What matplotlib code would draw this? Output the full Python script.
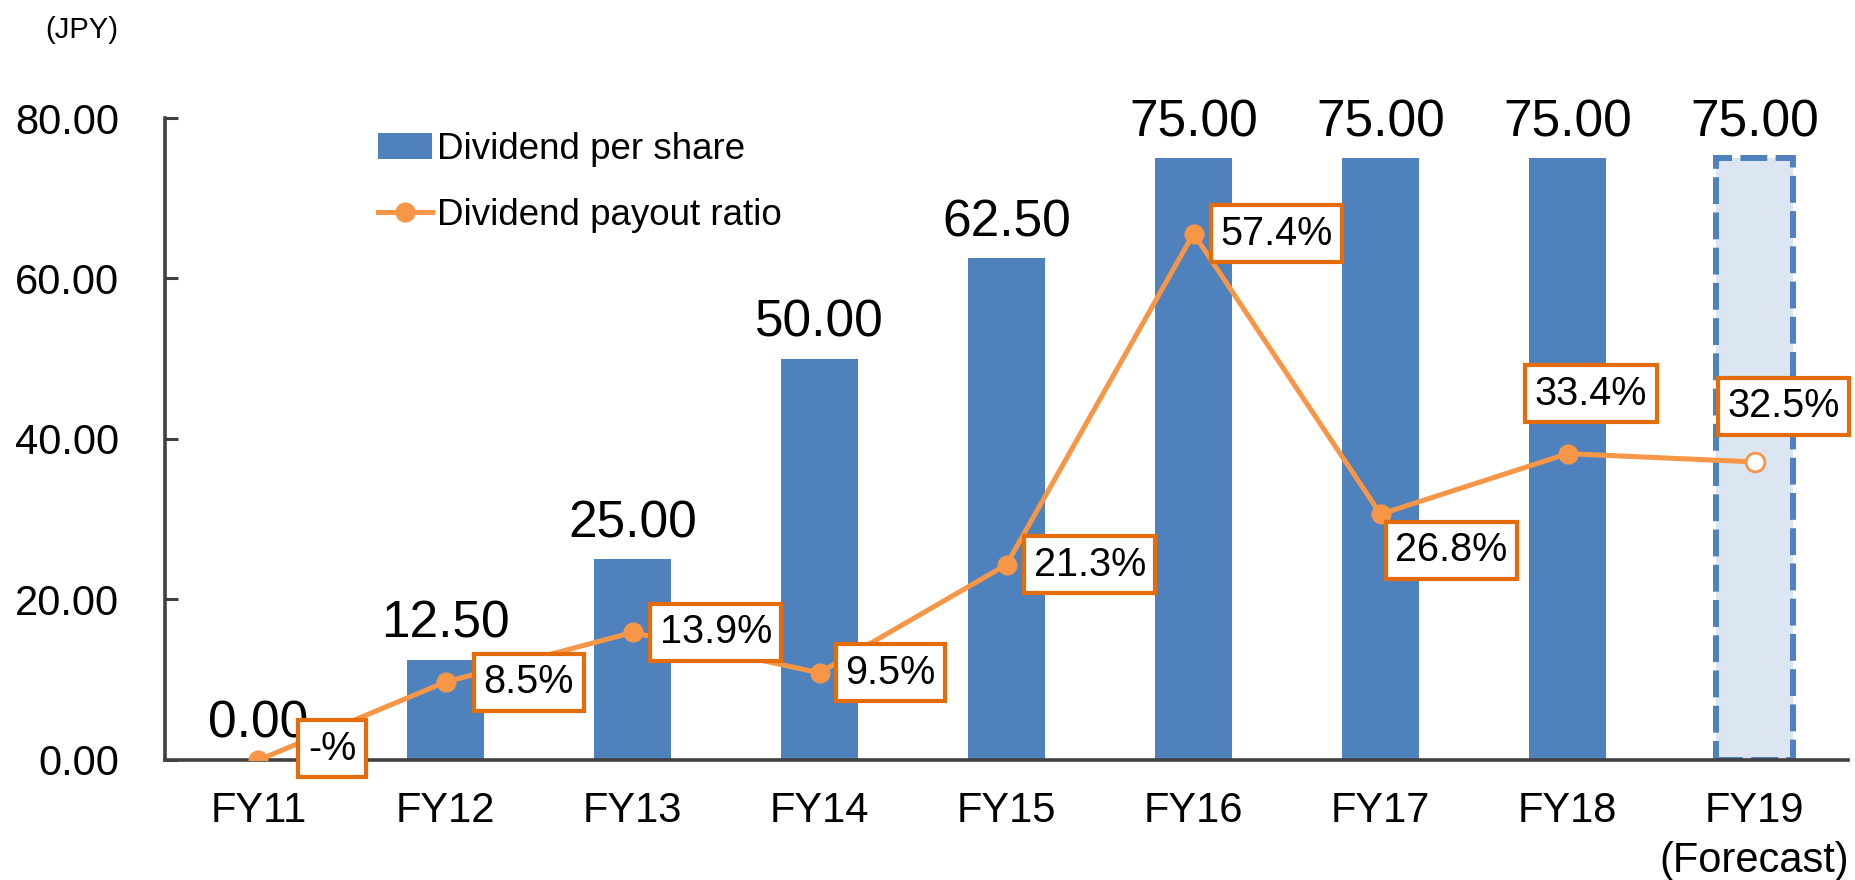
import numpy as np
import matplotlib.pyplot as plt

plt.rcParams['font.family'] = ['Liberation Sans', 'DejaVu Sans']

years = ['FY11', 'FY12', 'FY13', 'FY14', 'FY15', 'FY16', 'FY17', 'FY18', 'FY19']
dividend = [0.00, 12.50, 25.00, 50.00, 62.50, 75.00, 75.00, 75.00, 75.00]
payout = [0.0, 8.5, 13.9, 9.5, 21.3, 57.4, 26.8, 33.4, 32.5]
payout_labels = ['-%', '8.5%', '13.9%', '9.5%', '21.3%', '57.4%', '26.8%', '33.4%', '32.5%']

# label box offsets (points) from each line marker
label_offsets = [(53, 8), (60, 0), (60, 0), (51, 0), (60, 0), (60, 0), (51, -26), (17, 43), (21, 40)]

blue = '#4F81BD'
orange = '#F79646'
dark_orange = '#E46C0A'
axis_grey = '#404040'

fig = plt.figure(figsize=(18.56, 8.8), dpi=100)
ax = fig.add_axes([0.0889, 0.1364, 0.9068, 0.7295])
x = np.arange(len(years))

# actual years, then forecast bar
ax.bar(x[:-1], dividend[:-1], width=0.41, color=blue, zorder=2, label='Dividend per share')
ax.bar(x[-1], dividend[-1], width=0.41, color='#DCE6F2', edgecolor=blue,
       linewidth=4.3, linestyle=(0, (4.5, 1.4)), zorder=2)

for xi, v in zip(x, dividend):
    ax.annotate(f'{v:.2f}', (xi, v), xytext=(0, 8), textcoords='offset points',
                ha='center', va='bottom', fontsize=37)

ax.set_xlim(-0.5, len(years) - 0.5)
ax.set_ylim(0, 80)
ax.set_yticks([0, 20, 40, 60, 80])
ax.set_yticklabels([f'{t:.2f}' for t in [0, 20, 40, 60, 80]])
ax.set_xticks(x)
ax.set_xticklabels(years)
for s in ['top', 'right']:
    ax.spines[s].set_visible(False)
for s in ['left', 'bottom']:
    ax.spines[s].set_color(axis_grey)
    ax.spines[s].set_linewidth(2.6)
ax.tick_params(axis='y', direction='in', length=9, width=2.2, color=axis_grey,
               labelsize=30, pad=33)
ax.tick_params(axis='x', length=0, labelsize=30, pad=22)

fig.text(0.044, 0.966, '(JPY)', fontsize=21, ha='center', va='center')
ax.annotate('(Forecast)', (x[-1], 0), xytext=(0, -73), textcoords='offset points',
            ha='center', va='center', fontsize=30, annotation_clip=False)

# payout ratio on a hidden second scale
ax2 = ax.twinx()
ax2.set_ylim(0, 70)
ax2.axis('off')
ax2.plot(x, payout, color=orange, linewidth=3.6, zorder=3, label='Dividend payout ratio',
         marker='o', markersize=13.5)
ax2.plot(x[-1], payout[-1], marker='o', markersize=13.5, markerfacecolor='white',
         markeredgecolor=orange, markeredgewidth=2, zorder=4)

for xi, v, lab, off in zip(x, payout, payout_labels, label_offsets):
    ax2.annotate(lab, (xi, v), xytext=off, textcoords='offset points',
                 ha='center', va='center', fontsize=28.5, zorder=5,
                 bbox=dict(boxstyle='square,pad=0.24', facecolor='white',
                           edgecolor=dark_orange, linewidth=3.0))

h1, l1 = ax.get_legend_handles_labels()
h2, l2 = ax2.get_legend_handles_labels()
ax2.legend(h1 + h2[:1], l1 + l2[:1], loc='upper left', bbox_to_anchor=(0.107, 1.03),
           frameon=False, fontsize=26.5, handlelength=1.45, handletextpad=0.15,
           labelspacing=0.85)

fig.savefig('out.png', dpi=100)
